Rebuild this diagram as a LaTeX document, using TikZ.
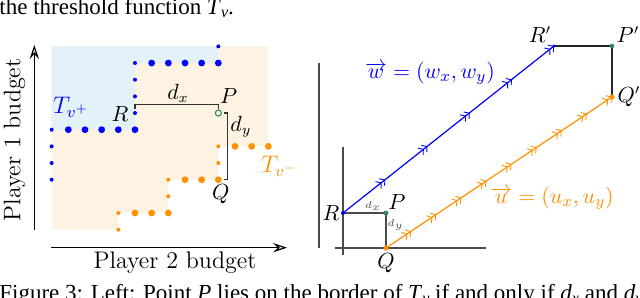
\documentclass[tikz,border=0pt]{standalone}
\usepackage{fontspec}
\newfontfamily\capfont{Liberation Serif}
\usetikzlibrary{arrows.meta,decorations.markings}
\definecolor{myblue}{RGB}{0,0,255}
\definecolor{myorange}{RGB}{255,145,0}
\definecolor{mygreen}{RGB}{46,139,87}
\definecolor{lightblue}{RGB}{227,241,248}
\definecolor{lightorange}{RGB}{254,243,226}
\definecolor{axisgray}{RGB}{75,75,75}
\tikzset{
  captext/.style={anchor=base west, inner sep=0pt, font=\capfont\fontsize{11.5}{13}\selectfont},
  axislabel/.style={inner sep=0pt, font=\fontsize{12}{14}\selectfont},
  mlabel/.style={inner sep=0pt, font=\fontsize{10.5}{12}\selectfont},
  tlabel/.style={inner sep=0pt, font=\fontsize{11.5}{13}\selectfont},
  tinylabel/.style={inner sep=0pt, text=axisgray, font=\fontsize{5}{6}\selectfont},
  budgetaxis/.style={line width=0.6pt, -{Stealth[open,length=7pt,width=4.6pt,inset=2.5pt]}},
  dimline/.style={line width=0.55pt, black!80},
  frameline/.style={line width=0.65pt, axisgray},
  midtip/.tip={Straight Barb[length=1.8pt,width=4.4pt,line width=0.45pt] Straight Barb[length=1.8pt,width=4.4pt,line width=0.45pt]},
  wmarks/.style={postaction={decorate}, decoration={markings,
     mark=at position 0.2 with {\arrow{midtip}},
     mark=at position 0.4 with {\arrow{midtip}},
     mark=at position 0.6 with {\arrow{midtip}},
     mark=at position 0.8 with {\arrow{midtip}},
     mark=at position 1 with {\arrow{midtip}}}},
  umarks/.style={postaction={decorate}, decoration={markings,
     mark=at position 0.1111 with {\arrow{midtip}},
     mark=at position 0.2222 with {\arrow{midtip}},
     mark=at position 0.3333 with {\arrow{midtip}},
     mark=at position 0.4444 with {\arrow{midtip}},
     mark=at position 0.5556 with {\arrow{midtip}},
     mark=at position 0.6667 with {\arrow{midtip}},
     mark=at position 0.7778 with {\arrow{midtip}},
     mark=at position 0.8889 with {\arrow{midtip}},
     mark=at position 1 with {\arrow{midtip}}}}
}
\begin{document}
\begin{tikzpicture}[x=0.5pt,y=-0.5pt]
\useasboundingbox (0,0) rectangle (640,298);

% partial caption lines
\node[captext] (captop) at (-1,14.5) {the threshold function \textit{T}\raisebox{-0.3ex}{\fontsize{8}{9}\selectfont\textit{v}}.};
\node[captext] (capbot) at (-1,300.5) {Figure 3: Left: Point \textit{P} lies on the border of \textit{T}\raisebox{-0.3ex}{\fontsize{8}{9}\selectfont\textit{v}} if and only if \textit{d}\raisebox{-0.3ex}{\fontsize{8}{9}\selectfont\textit{x}} and \textit{d}\raisebox{-0.3ex}{\fontsize{8}{9}\selectfont\textit{y}} are};

% ---------- left panel ----------
\begin{scope}[shift={(51.67,229.7)},x=8.333pt,y=8.333pt]
  \fill[lightorange] (0,11) -| (13,5) -| (10,3) -| (7,1) -| (4,0) -| cycle;
  \fill[lightblue] (0,11) -| (10,10) -| (5,6) -| cycle;
  % blue dots
  \foreach \p in {(10,11),(5,10),(5,9),(5,8),(5,7),(0,6),(0,5),(0,4),(0,3)}
    \fill[myblue] \p circle[radius=1pt];
  \foreach \p in {(6,10),(7,10),(8,10),(9,10),(10,10),(1,6),(2,6),(3,6),(4,6),(5,6)}
    \fill[myblue] \p circle[radius=1.7pt];
  % orange dots
  \foreach \p in {(10,5),(10,4),(7,3),(7,2),(4,1),(4,0)}
    \fill[myorange] \p circle[radius=1pt];
  \foreach \p in {(11,5),(12,5),(13,5),(8,3),(9,3),(10,3),(5,1),(6,1),(7,1)}
    \fill[myorange] \p circle[radius=1.7pt];
  \coordinate (R) at (5,7);
  \coordinate (P) at (10,7);
  \coordinate (Q) at (10,3);
  \draw[dimline] ([yshift=2.2pt]R) -- ([yshift=4.17pt]R) -| ([yshift=1.9pt]P);
  \draw[dimline] ([xshift=2.9pt]P) -- ([xshift=4.6pt]P) |- ([xshift=2.9pt]Q);
  \node[circle, draw=mygreen, fill=white, line width=0.55pt, inner sep=0pt, minimum size=3pt] (Pc) at (P) {};
  \node[mlabel] (Rl) at (4.1,6.95) {$R$};
  \node[mlabel] (Pl) at (10.62,8.03) {$P$};
  \node[mlabel] (Ql) at (10.15,2.11) {$Q$};
  \node[mlabel] (dxl) at (7.58,8.16) {$d_x$};
  \node[mlabel] (dyl) at (11.36,6.16) {$d_y$};
  \node[tlabel, text=myblue] (Tp) at (1.16,7.36) {$T_{v^+}$};
  \node[tlabel, text=myorange] (Tm) at (13.67,3.8) {$T_{v^-}$};
\end{scope}
\coordinate (ya) at (34.3,230);
\coordinate (yb) at (34.3,45);
\coordinate (xa) at (51,247.7);
\coordinate (xb) at (287,247.7);
\draw[budgetaxis] (ya) -- (yb);
\draw[budgetaxis] (xa) -- (xb);
\node[axislabel, rotate=90] (p1) at (14.5,140) {Player 1 budget};
\node[axislabel] (p2) at (175,263) {Player 2 budget};

% ---------- right panel ----------
\coordinate (f1a) at (319,63);
\coordinate (f1b) at (319,248);
\coordinate (f2a) at (343,147);
\coordinate (f2b) at (343,255);
\coordinate (f3a) at (335,248);
\coordinate (f3b) at (486,248);
\draw[frameline] (f1a) -- (f1b);
\draw[frameline] (f2a) -- (f2b);
\draw[frameline] (f3a) -- (f3b);

\coordinate (R2) at (343,213);
\coordinate (P2) at (386,213);
\coordinate (Q2) at (386,248);
\coordinate (R3) at (554,46);
\coordinate (P3) at (612,46);
\coordinate (Q3) at (612,97);

\draw[line width=0.65pt, axisgray] (R2) -- (P2) -- (Q2);
\draw[line width=0.6pt, black!85] (R3) -- (P3) -- (Q3);
\draw[line width=0.6pt, myblue, wmarks] (R2) -- (R3);
\draw[line width=0.6pt, myorange, umarks] (Q2) -- (Q3);

\fill[myblue] (R2) circle[radius=1pt];
\fill[mygreen] (P2) circle[radius=1.2pt];
\fill[myorange] (Q2) circle[radius=1.35pt];
\fill[myblue] (R3) circle[radius=0.85pt];
\fill[mygreen] (P3) circle[radius=1.15pt];
\fill[myorange] (Q3) circle[radius=1.3pt];

\node[mlabel] (R2l) at (331,213) {$R$};
\node[mlabel] (P2l) at (397,202) {$P$};
\node[mlabel] (Q2l) at (386,263) {$Q$};
\node[tinylabel] (dx2) at (373,206) {$d_x$};
\node[tinylabel] (dy2) at (395.5,225) {$d_y$};
\node[mlabel] (R3l) at (540,35) {$R'$};
\node[mlabel] (P3l) at (628,35) {$P'$};
\node[mlabel] (Q3l) at (629,97) {$Q'$};
\node[inner sep=0pt, text=myblue, font=\fontsize{11}{13}\selectfont] (wl) at (430,73) {$\overrightarrow{w} = (w_x, w_y)$};
\node[inner sep=0pt, text=myorange, font=\fontsize{11}{13}\selectfont] (ul) at (552,198) {$\overrightarrow{u} = (u_x, u_y)$};
\end{tikzpicture}
\end{document}
